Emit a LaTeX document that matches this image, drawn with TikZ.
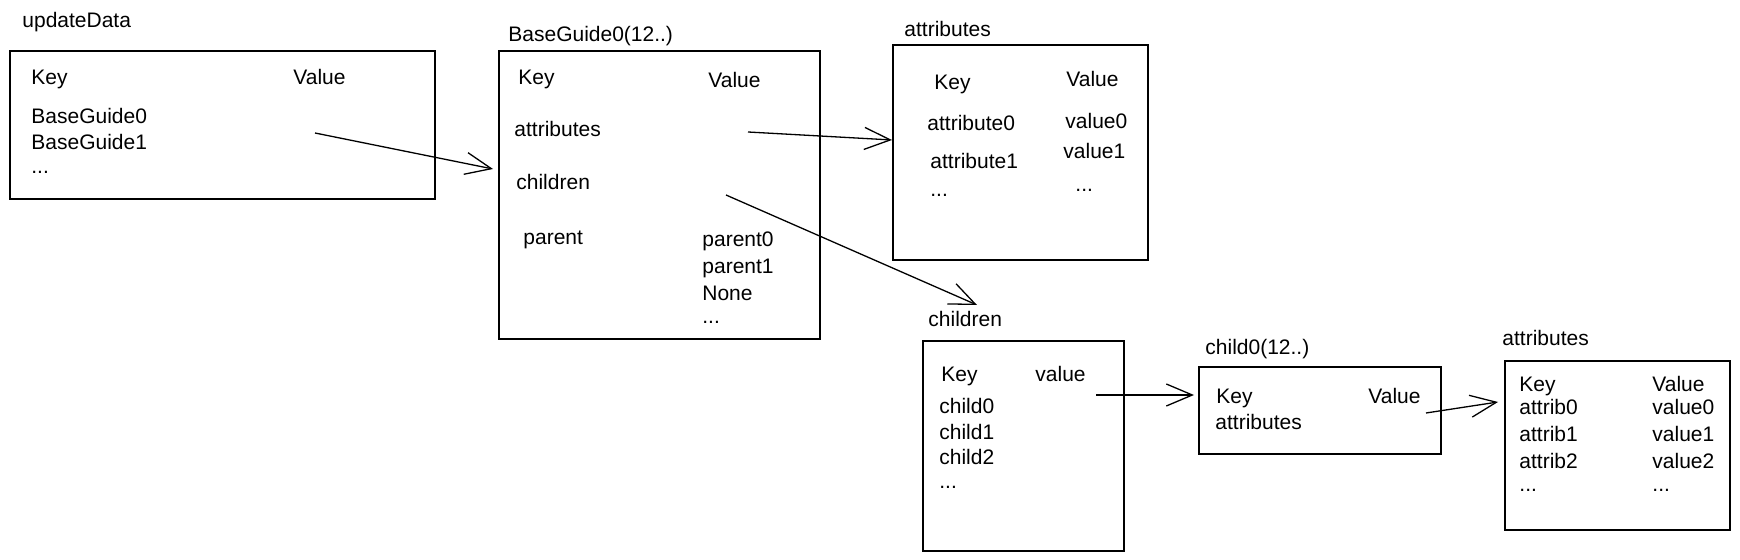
\documentclass[tikz,border=0pt]{standalone}
\usepackage{fontspec}
\setmainfont{Liberation Sans}
\usetikzlibrary{positioning,arrows.meta}

\tikzset{
  tbl/.style={draw, line width=0.8pt, anchor=north west, inner sep=0pt},
  txt/.style={anchor=base west, inner sep=0pt, font=\fontsize{10.5}{12}\selectfont},
  ptr/.style={-{Straight Barb[length=13pt,width=11pt]}, line width=0.65pt},
}

\begin{document}
\begin{tikzpicture}[x=0.5pt,y=-0.5pt]
            \useasboundingbox (0,0) rectangle (1740,560);
            % updateData
            \node[txt] (tUpd) at (22,28) {updateData};
            \node[tbl, minimum width=212.5pt, minimum height=74pt] (upd) at (9,50) {};
            \node[txt] (updK) at (31,85) {Key};
            \node[txt] (updV) at (293,85) {Value};
            \node[txt] (updA) at (31,124) {BaseGuide0};
            \node[txt] (updB) at (31,150) {BaseGuide1};
            \node[txt] (updC) at (31,174) {...};
            % BaseGuide0
            \node[txt] (tBg) at (508,42) {BaseGuide0(12..)};
            \node[tbl, minimum width=160.5pt, minimum height=144pt] (bg) at (498,50) {};
            \node[txt] (bgK) at (518,85) {Key};
            \node[txt] (bgV) at (708,88) {Value};
            \node[txt] (bgAttr) at (514,137) {attributes};
            \node[txt] (bgCh) at (516,190) {children};
            \node[txt] (bgPar) at (523,245) {parent};
            \node[txt] (bgP0) at (702,247) {parent0};
            \node[txt] (bgP1) at (702,274) {parent1};
            \node[txt] (bgP2) at (702,301) {None};
            \node[txt] (bgP3) at (702,324) {...};
            % attributes
            \node[txt] (tAt) at (904,37) {attributes};
            \node[tbl, minimum width=127.5pt, minimum height=107.5pt] (at) at (892,44) {};
            \node[txt] (atK) at (934,90) {Key};
            \node[txt] (atV) at (1066,87) {Value};
            \node[txt] (atA0) at (927,131) {attribute0};
            \node[txt] (atV0) at (1065,129) {value0};
            \node[txt] (atA1) at (930,169) {attribute1};
            \node[txt] (atV1) at (1063,159) {value1};
            \node[txt] (atA2) at (930,197) {...};
            \node[txt] (atV2) at (1075,192) {...};
            % children
            \node[txt] (tCh) at (928,327) {children};
            \node[tbl, minimum width=100.5pt, minimum height=105pt] (ch) at (922,340) {};
            \node[txt] (chK) at (941,382) {Key};
            \node[txt] (chV) at (1035,382) {value};
            \node[txt] (chA) at (939,414) {child0};
            \node[txt] (chB) at (939,440) {child1};
            \node[txt] (chC) at (939,465) {child2};
            \node[txt] (chD) at (939,489) {...};
            % child0
            \node[txt] (tCd) at (1205,355) {child0(12..)};
            \node[tbl, minimum width=121pt, minimum height=43.5pt] (cd) at (1198,366) {};
            \node[txt] (cdK) at (1216,404) {Key};
            \node[txt] (cdV) at (1368,404) {Value};
            \node[txt] (cdAttr) at (1215,430) {attributes};
            % attributes of child
            \node[txt] (tCa) at (1502,346) {attributes};
            \node[tbl, minimum width=112.5pt, minimum height=84.5pt] (ca) at (1504,360) {};
            \node[txt] (caK) at (1519,392) {Key};
            \node[txt] (caV) at (1652,392) {Value};
            \foreach \y/\n in {415/0,442/1,469/2}
              {
                \node[txt] (caA\n) at (1519,\y) {attrib\n};
                \node[txt] (caV\n) at (1652,\y) {value\n};
              }
            \node[txt] (caA3) at (1519,492) {...};
            \node[txt] (caV3) at (1652,492) {...};
            % pointers
            \coordinate (p1s) at (315,133);
            \coordinate (p1e) at (493,169);
            \coordinate (p2s) at (748,132);
            \coordinate (p2e) at (892,140);
            \coordinate (p3s) at (726,195);
            \coordinate (p3e) at (977,305);
            \coordinate (p4s) at (1096,395);
            \coordinate (p4e) at (1194,395);
            \coordinate (p5s) at (1426,413);
            \coordinate (p5e) at (1498,402);
            \draw[ptr] (p1s) -- (p1e);
            \draw[ptr] (p2s) -- (p2e);
            \draw[ptr] (p3s) -- (p3e);
            \draw[ptr] (p4s) -- (p4e);
            \draw[ptr] (p5s) -- (p5e);
          \end{tikzpicture}
\end{document}
